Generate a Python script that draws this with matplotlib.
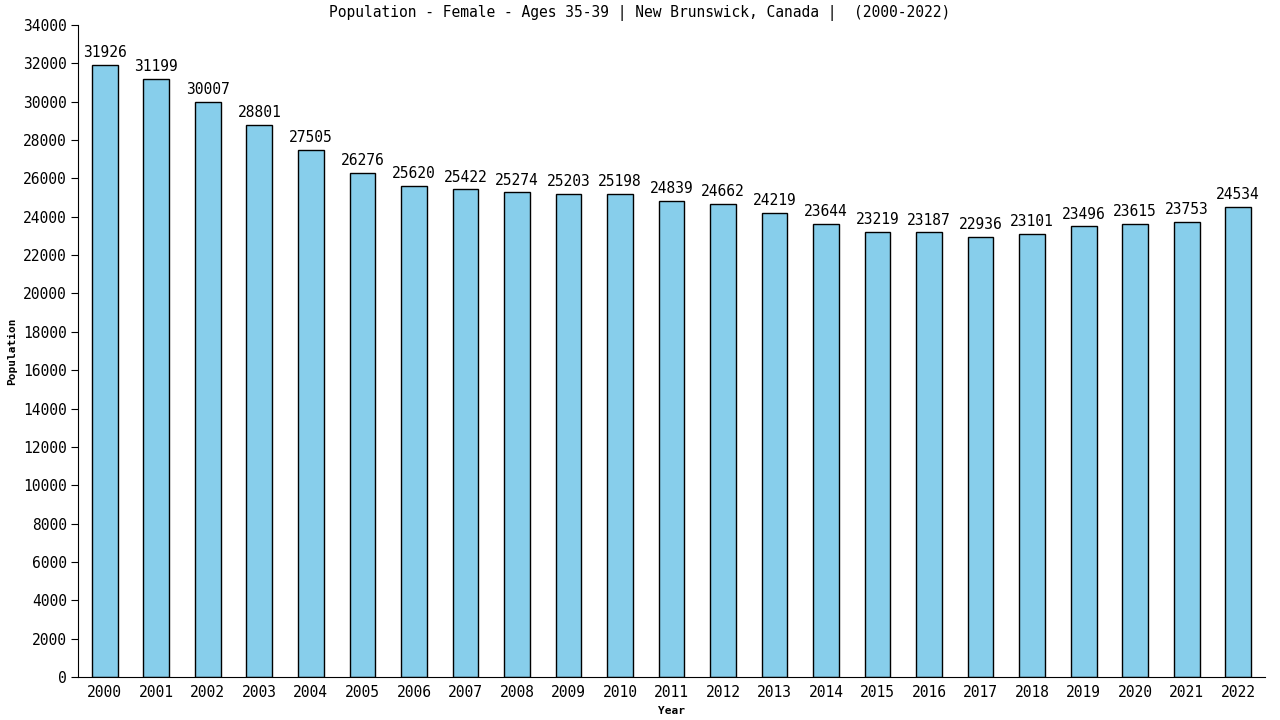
import matplotlib
matplotlib.use('Agg')
import matplotlib.pyplot as plt

years = [str(y) for y in range(2000, 2023)]
population = [31926, 31199, 30007, 28801, 27505, 26276, 25620, 25422, 25274, 25203,
              25198, 24839, 24662, 24219, 23644, 23219, 23187, 22936, 23101, 23496,
              23615, 23753, 24534]
yticks = list(range(0, 34001, 2000))

plt.rcParams['font.family'] = 'DejaVu Sans Mono'

fig = plt.figure(figsize=(12.8, 7.2), dpi=100)
ax = fig.add_axes([78/1280, 43/720, (1265-78)/1280, (677-25)/720])

x = range(len(years))
ax.bar(x, population, width=0.5, color='#87ceeb', edgecolor='black', linewidth=1)
for i, v in enumerate(population):
    ax.text(i, v + 250, str(v), ha='center', va='bottom', fontsize=10.5)

ax.set_xlim(-0.52, len(years) - 0.48)
ax.set_ylim(0, 34000)
ax.set_xticks(list(x))
ax.set_xticklabels(years, fontsize=10.5)
ax.set_yticks(yticks)
ax.set_yticklabels([str(t) for t in yticks], fontsize=10.5)
ax.tick_params(axis='x', length=0, pad=6)
ax.tick_params(axis='y', length=5, pad=3)
ax.spines['top'].set_visible(False)
ax.spines['right'].set_visible(False)

ax.set_xlabel('Year', fontsize=8, fontweight='bold', labelpad=4)
ax.set_ylabel('Population', fontsize=8, fontweight='bold', labelpad=4)
fig.text(0.5, 0.982, 'Population - Female - Ages 35-39 | New Brunswick, Canada |  (2000-2022)',
         ha='center', va='center', fontsize=10.5)

fig.savefig('out.png', dpi=100)
